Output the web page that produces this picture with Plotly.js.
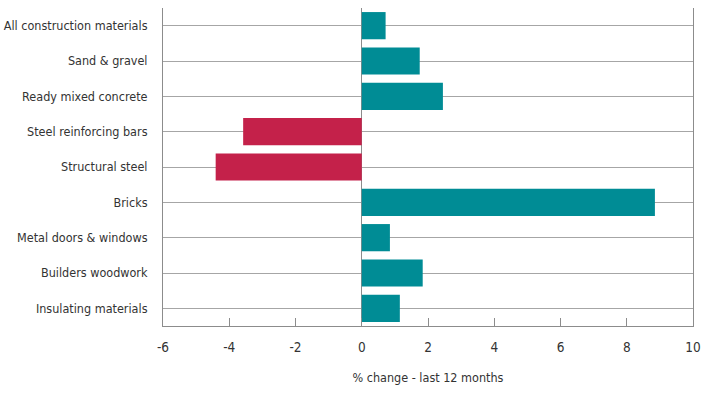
<!DOCTYPE html>
<html>
<head>
<meta charset="utf-8">
<script src="https://cdn.plot.ly/plotly-3.0.1.min.js"></script>
<style>html,body{margin:0;padding:0;background:#fff;}#chart{width:713px;height:398px;}</style>
</head>
<body>
<div id="chart"></div>
<script>
const categories = [
  "All construction materials",
  "Sand & gravel",
  "Ready mixed concrete",
  "Steel reinforcing bars",
  "Structural steel",
  "Bricks",
  "Metal doors & windows",
  "Builders woodwork",
  "Insulating materials"
];
const pctChange = [0.72, 1.75, 2.45, -3.58, -4.41, 8.85, 0.85, 1.84, 1.15];
const xTickVals = [-6, -4, -2, 0, 2, 4, 6, 8, 10];
const xTitle = "% change - last 12 months";

const POS = "#008c95", NEG = "#c4214a";
const FONT = '"DejaVu Sans Condensed", "Liberation Sans Narrow", "Arial Narrow", sans-serif';

const trace = {
  type: "bar",
  orientation: "h",
  y: categories,
  x: pctChange,
  marker: { color: pctChange.map(v => v < 0 ? NEG : POS), line: { width: 0 } },
  hoverinfo: "x+y"
};

const layout = {
  width: 713, height: 398,
  margin: { l: 163, r: 20, t: 8, b: 72, pad: 0 },
  paper_bgcolor: "#fff", plot_bgcolor: "#fff",
  font: { family: FONT, size: 12.5, color: "#333" },
  showlegend: false,
  bargap: 0.23,
  xaxis: {
    range: [-6, 10],
    tickvals: xTickVals,
    ticktext: xTickVals.map(String),
    ticks: "inside", ticklen: 8, tickwidth: 1, tickcolor: "#8c8c8c",
    showline: true, linecolor: "#8c8c8c", linewidth: 1,
    showgrid: false,
    zeroline: true, zerolinecolor: "#8c8c8c", zerolinewidth: 1,
    tickfont: { family: FONT, size: 13.5, color: "#333" },
    ticklabelstandoff: 9,
    title: { text: xTitle, font: { family: FONT, size: 12.5, color: "#333" }, standoff: 19 },
    fixedrange: true
  },
  yaxis: {
    type: "category",
    autorange: "reversed",
    showgrid: true, gridcolor: "#a6a6a6", gridwidth: 1,
    showline: true, linecolor: "#8c8c8c", linewidth: 1, mirror: true,
    ticks: "",
    ticklabelstandoff: 12,
    tickfont: { family: FONT, size: 12.5, color: "#333" },
    fixedrange: true
  }
};

Plotly.newPlot("chart", [trace], layout, { displayModeBar: false, staticPlot: true });
</script>
</body>
</html>
